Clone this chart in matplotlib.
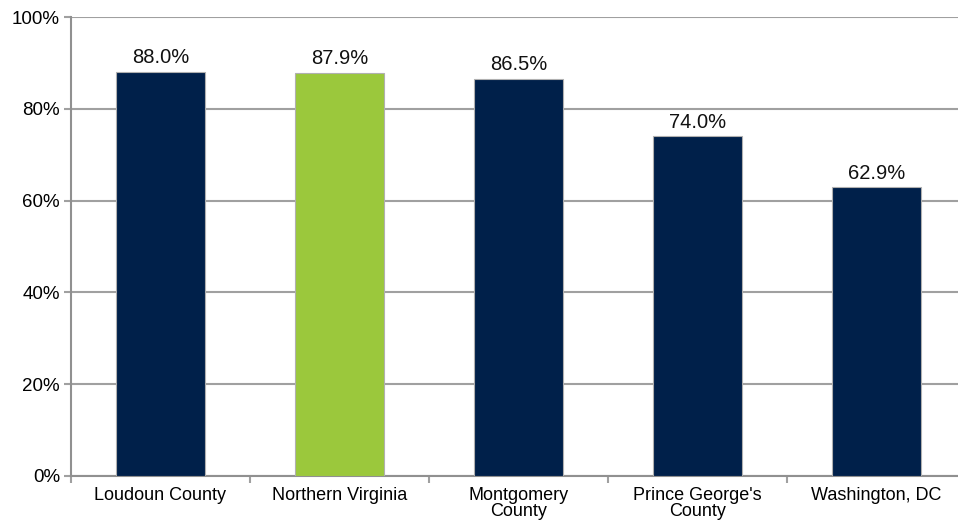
import matplotlib
matplotlib.use("Agg")
from matplotlib import pyplot as plt
import numpy as np

categories = ["Loudoun County", "Northern Virginia", "Montgomery\nCounty", "Prince George's\nCounty", "Washington, DC"]
values = [88.0, 87.9, 86.5, 74.0, 62.9]
bar_colors = ["#00204a", "#9bc83c", "#00204a", "#00204a", "#00204a"]
y_ticks = [0, 20, 40, 60, 80, 100]

plt.rcParams['font.family'] = ['Liberation Sans', 'DejaVu Sans']

fig = plt.figure(figsize=(9.58, 5.2), dpi=100)
ax = fig.add_axes([71/958, 1 - 476/520, 895/958, (476 - 17)/520])

x = np.arange(len(categories))
bars = ax.bar(x, values, width=0.5, color=bar_colors, edgecolor="#b0b0b0", linewidth=0.8, zorder=3)

for xi, v in zip(x, values):
    ax.text(xi, v + 1.0, f"{v:.1f}%", ha="center", va="bottom", fontsize=14.5, color="#111111")

ax.set_xlim(-0.5, len(categories) - 0.5)
ax.set_ylim(0, 100)
ax.set_yticks(y_ticks)
ax.set_yticklabels([f"{t}%" for t in y_ticks], fontsize=13.5)
ax.yaxis.grid(True, color="#a0a0a0", linewidth=1.5, zorder=1)
ax.tick_params(axis="y", length=5, color="#a0a0a0", width=1.5, pad=3)

ax.set_xticks(x)
ax.set_xticklabels(categories, fontsize=13, linespacing=0.88)
ax.set_xticks(np.arange(len(categories)) - 0.5, minor=True)
ax.tick_params(axis="x", which="major", length=0, pad=8)
ax.tick_params(axis="x", which="minor", length=5, color="#a0a0a0", width=1.5)

for s in ["top", "right"]:
    ax.spines[s].set_visible(False)
for s in ["left", "bottom"]:
    ax.spines[s].set_color("#909090")
    ax.spines[s].set_linewidth(1.5)

fig.savefig("out.png", dpi=100)
